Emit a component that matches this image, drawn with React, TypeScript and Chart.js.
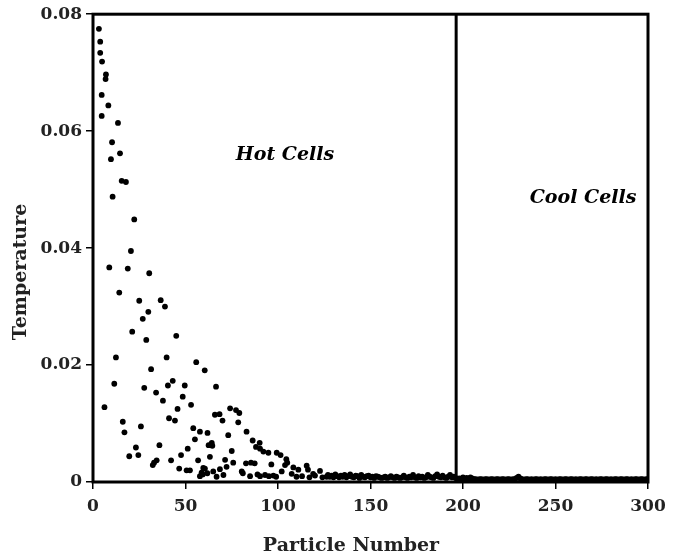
import React, { useEffect, useRef } from "react";
import { Chart, registerables } from "chart.js";

Chart.register(...registerables);

// Scattered temperatures of the hot particles (particle number, temperature)
const hotParticle: number[] = [
  3.2, 3.9, 3.9, 4.9, 7.0, 6.8, 4.7, 8.3, 4.7, 13.5,
  10.3, 14.6, 9.7, 15.5, 17.8, 10.6, 22.3, 20.5, 8.8, 18.8,
  30.4, 14.2, 25.0, 36.6, 38.9, 29.9, 26.9, 21.2, 28.8, 45.0,
  12.4, 39.8, 31.4, 55.8, 60.4, 11.5, 27.7, 43.1, 40.5, 49.6,
  34.1, 37.8, 48.5, 66.5, 53.0, 45.7, 6.2, 41.1, 44.3, 16.1,
  17.0, 25.9, 65.9, 68.4, 54.2, 57.8, 61.9, 55.1, 35.9, 23.2,
  24.5, 19.6, 51.2, 62.5, 33.0, 34.4, 32.3, 42.2, 47.6, 56.8,
  63.2, 46.6, 50.6, 52.4, 59.6, 59.3, 61.8, 65.0, 68.6, 70.0,
  74.1, 77.3, 79.1, 78.5, 73.1, 83.0, 64.2, 64.5, 86.3, 90.1,
  88.1, 90.3, 75.0, 92.1, 94.8, 99.3, 101.4, 104.5, 103.8, 75.8,
  71.4, 72.2, 82.7, 85.4, 87.4, 96.4, 105.0, 108.3, 111.0, 115.5,
  116.2, 80.4, 102.0, 119.0, 122.7, 84.9, 90.3, 95.1, 57.8, 126.3,
  107.4, 58.7, 60.5, 81.0, 99.0, 110.0, 113.0, 117.0, 120.0, 124.0,
  93.0, 97.5, 66.8, 70.5, 88.9,
];
const hotTemperature: number[] = [
  0.0775, 0.0753, 0.0734, 0.0719, 0.0697, 0.0689, 0.0662, 0.0644, 0.0626, 0.0614,
  0.0581, 0.0562, 0.0552, 0.0515, 0.0513, 0.0488, 0.0449, 0.0395, 0.0367, 0.0365,
  0.0357, 0.0324, 0.031, 0.0311, 0.03, 0.0291, 0.0279, 0.0257, 0.0243, 0.025,
  0.0213, 0.0213, 0.0193, 0.0205, 0.0191, 0.0168, 0.0161, 0.0173, 0.0165, 0.0165,
  0.0153, 0.0139, 0.0146, 0.0163, 0.0132, 0.0125, 0.0128, 0.0109, 0.0105, 0.0103,
  0.0085, 0.0095, 0.0115, 0.0116, 0.0092, 0.0086, 0.0084, 0.0073, 0.0063, 0.0059,
  0.0046, 0.0044, 0.0057, 0.0063, 0.0033, 0.0037, 0.0029, 0.0037, 0.0046, 0.0037,
  0.0043, 0.0023, 0.002, 0.002, 0.0024, 0.0013, 0.0015, 0.0018, 0.0022, 0.0105,
  0.0126, 0.0123, 0.0118, 0.0102, 0.008, 0.0086, 0.0067, 0.0062, 0.0071, 0.0067,
  0.006, 0.0057, 0.0053, 0.0052, 0.005, 0.005, 0.0046, 0.0039, 0.0029, 0.0033,
  0.0038, 0.0026, 0.0032, 0.0033, 0.0032, 0.003, 0.0033, 0.0025, 0.0021, 0.0028,
  0.0021, 0.0018, 0.0018, 0.0014, 0.0019, 0.001, 0.001, 0.001, 0.001, 0.0009,
  0.0014, 0.0016, 0.0023, 0.0015, 0.0009, 0.0009, 0.001, 0.0008, 0.0011, 0.0008,
  0.0012, 0.0011, 0.0009, 0.0012, 0.0013,
];

// Near-zero temperatures of particles 127 to 300, in particle order
const tailFirstParticle = 127;
const tailTemperature: number[] = [
  0.0012, 0.0009, 0.0011, 0.0008, 0.0013, 0.001, 0.0008, 0.0011, 0.0009, 0.0012,
  0.0008, 0.001, 0.0013, 0.0009, 0.0008, 0.0011, 0.001, 0.0007, 0.0012, 0.0009,
  0.0008, 0.001, 0.0011, 0.0008, 0.0009, 0.0007, 0.001, 0.0009, 0.0008, 0.0007,
  0.0008, 0.0009, 0.0007, 0.0008, 0.001, 0.0008, 0.0007, 0.0009, 0.0008, 0.0007,
  0.0008, 0.0011, 0.0008, 0.0007, 0.0009, 0.0008, 0.0012, 0.0008, 0.0007, 0.001,
  0.0008, 0.0009, 0.0007, 0.0008, 0.0012, 0.0009, 0.0008, 0.0007, 0.001, 0.0013,
  0.0009, 0.0008, 0.0011, 0.0008, 0.0007, 0.0009, 0.0012, 0.0008, 0.0009, 0.0007,
  0.0005, 0.0006, 0.0005, 0.0008, 0.0005, 0.0007, 0.0005, 0.0008, 0.0006, 0.0005,
  0.0005, 0.0004, 0.0005, 0.0005, 0.0004, 0.0005, 0.0005, 0.0004, 0.0005, 0.0005,
  0.0004, 0.0005, 0.0005, 0.0004, 0.0005, 0.0005, 0.0004, 0.0005, 0.0005, 0.0004,
  0.0005, 0.0005, 0.0007, 0.0009, 0.0006, 0.0005, 0.0004, 0.0005, 0.0005, 0.0004,
  0.0005, 0.0004, 0.0005, 0.0005, 0.0004, 0.0005, 0.0004, 0.0005, 0.0005, 0.0004,
  0.0005, 0.0005, 0.0004, 0.0005, 0.0004, 0.0005, 0.0005, 0.0004, 0.0005, 0.0005,
  0.0004, 0.0005, 0.0005, 0.0004, 0.0005, 0.0004, 0.0005, 0.0005, 0.0004, 0.0005,
  0.0005, 0.0004, 0.0005, 0.0005, 0.0004, 0.0005, 0.0004, 0.0005, 0.0005, 0.0004,
  0.0005, 0.0005, 0.0004, 0.0005, 0.0004, 0.0005, 0.0005, 0.0004, 0.0005, 0.0005,
  0.0004, 0.0005, 0.0005, 0.0004, 0.0005, 0.0004, 0.0005, 0.0005, 0.0004, 0.0005,
  0.0005, 0.0004, 0.0005, 0.0005,
];

// Boundary between hot and cool cells
const boundaryParticle = 196.3;

// Region captions and their anchor points (particle number, temperature)
const regionNames = ["Hot Cells", "Cool Cells"];
const regionX = [103.8, 264.9];
const regionY = [0.0559, 0.0485];

const xTicks = [0, 50, 100, 150, 200, 250, 300];
const yTicks = [0, 0.02, 0.04, 0.06, 0.08];

const xTitle = "Particle Number";
const yTitle = "Temperature";

const SERIF = "'DejaVu Serif', 'Liberation Serif', serif";

const framePlugin = {
  id: "frame",
  afterDatasetsDraw(chart: any) {
    const { ctx, chartArea } = chart;
    ctx.save();
    ctx.strokeStyle = "#000";
    ctx.lineWidth = 3;
    ctx.strokeRect(
      chartArea.left,
      chartArea.top,
      chartArea.right - chartArea.left,
      chartArea.bottom - chartArea.top
    );
    ctx.restore();
  },
};

// Region captions placed in data space, axis titles placed in the margins
const textPlugin = {
  id: "texts",
  afterDraw(chart: any) {
    const { ctx, scales } = chart;
    ctx.save();
    ctx.fillStyle = "#000";
    ctx.textAlign = "center";
    ctx.textBaseline = "middle";
    ctx.font = `italic bold 19px ${SERIF}`;
    regionNames.forEach((name, i) => {
      ctx.fillText(
        name,
        scales.x.getPixelForValue(regionX[i]),
        scales.y.getPixelForValue(regionY[i])
      );
    });
    ctx.fillStyle = "#222";
    ctx.font = `bold 19px ${SERIF}`;
    ctx.fillText(xTitle, 351, 546);
    ctx.translate(21, 272);
    ctx.rotate(-Math.PI / 2);
    ctx.fillText(yTitle, 0, 0);
    ctx.restore();
  },
};

export default function App() {
  const canvasRef = useRef<HTMLCanvasElement | null>(null);

  useEffect(() => {
    if (!canvasRef.current) return;
    const points = hotParticle.map((x, i) => ({ x, y: hotTemperature[i] }));
    tailTemperature.forEach((y, i) => points.push({ x: tailFirstParticle + i, y }));

    const chart = new Chart(canvasRef.current, {
      type: "scatter",
      data: {
        datasets: [
          {
            data: points,
            pointRadius: 2.9,
            pointBackgroundColor: "#000",
            pointBorderColor: "#000",
            pointBorderWidth: 0,
            showLine: false,
          },
          {
            data: [
              { x: boundaryParticle, y: 0 },
              { x: boundaryParticle, y: 0.08 },
            ],
            showLine: true,
            borderColor: "#000",
            borderWidth: 3,
            pointRadius: 0,
          },
        ],
      },
      options: {
        responsive: false,
        animation: false,
        devicePixelRatio: 1,
        layout: { padding: { left: 0, top: 14, right: 30, bottom: 0 } },
        plugins: { legend: { display: false }, tooltip: { enabled: false } },
        scales: {
          x: {
            type: "linear",
            min: 0,
            max: 300,
            afterFit: (s: any) => {
              s.height = 76;
            },
            afterBuildTicks: (s: any) => {
              s.ticks = xTicks.map((v) => ({ value: v }));
            },
            border: { display: false },
            grid: {
              drawOnChartArea: false,
              drawTicks: true,
              tickLength: 7,
              color: "#000",
              lineWidth: 1.5,
            },
            ticks: {
              color: "#222",
              padding: 7,
              font: { family: SERIF, size: 17, weight: "bold" },
            },
            title: { display: false },
          },
          y: {
            type: "linear",
            min: 0,
            max: 0.08,
            afterFit: (s: any) => {
              s.width = 93;
            },
            afterBuildTicks: (s: any) => {
              s.ticks = yTicks.map((v) => ({ value: v }));
            },
            border: { display: false },
            grid: {
              drawOnChartArea: false,
              drawTicks: true,
              tickLength: 7,
              color: "#000",
              lineWidth: 1.5,
            },
            ticks: {
              color: "#222",
              padding: 4,
              font: { family: SERIF, size: 17, weight: "bold" },
              callback: (v: any) => (Number(v) === 0 ? "0" : Number(v).toFixed(2)),
            },
            title: { display: false },
          },
        },
      },
      plugins: [framePlugin, textPlugin],
    });
    return () => chart.destroy();
  }, []);

  return (
    <div style={{ position: "absolute", left: 0, top: 0, width: 678, height: 558, background: "#fff" }}>
      <canvas ref={canvasRef} width={678} height={558} />
    </div>
  );
}
